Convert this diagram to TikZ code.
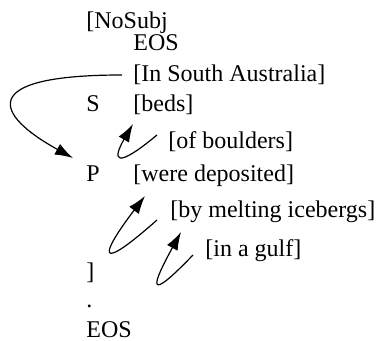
\documentclass[tikz,border=0pt]{standalone}
\usepackage{fontspec}
\setmainfont{Liberation Serif}
\usetikzlibrary{arrows.meta}
\tikzset{>={Latex[length=9pt,width=6pt]}}
\tikzstyle{word}=[anchor=base west,inner sep=0pt,font=\fontsize{12}{14}\selectfont]
\tikzstyle{link}=[->,line width=0.6pt]

\begin{document}
\begin{tikzpicture}[x=0.5pt,y=-0.5pt]
	\useasboundingbox (0,0) rectangle (376,341);
	\node[word] (nosubj) at (86, 29) {[NoSubj};
	\node[word] (eosA) at (133, 51) {EOS};
	\node[word] (inSA) at (133, 82) {[In South Australia]};
	\node[word] (S) at (86, 112) {S};
	\node[word] (beds) at (133, 112) {[beds]};
	\node[word] (ofB) at (168, 149) {[of boulders]};
	\node[word] (P) at (86, 182) {P};
	\node[word] (wd) at (133, 182) {[were deposited]};
	\node[word] (bmi) at (170, 218) {[by melting icebergs]};
	\node[word] (iag) at (205, 257) {[in a gulf]};
	\node[word] (close) at (86, 280) {]};
	\node[word] (dot) at (86, 308) {.};
	\node[word] (eosB) at (86, 338) {EOS};
	
	\draw[link] ([xshift=-5.5pt,yshift=3.5pt]inSA.base west) .. controls +(-147,0) and +(-78,-43) .. ([xshift=-6.5pt,yshift=12pt]P.base west);
	\draw[link] ([xshift=-5.5pt,yshift=7pt]ofB.base west) .. controls +(-42,35) and +(-21,36) .. ([yshift=-6pt]beds.base west);
	\draw[link] ([xshift=-6.5pt,yshift=-1pt]bmi.base west) .. controls +(-62,55) and +(-45,59) .. ([xshift=6pt,yshift=-7pt]wd.base west);
	\draw[link] ([xshift=-6pt,yshift=1pt]iag.base west) .. controls +(-48,50) and +(-29,53) .. ([xshift=5.5pt,yshift=-7pt]bmi.base west);
\end{tikzpicture}
\end{document}
